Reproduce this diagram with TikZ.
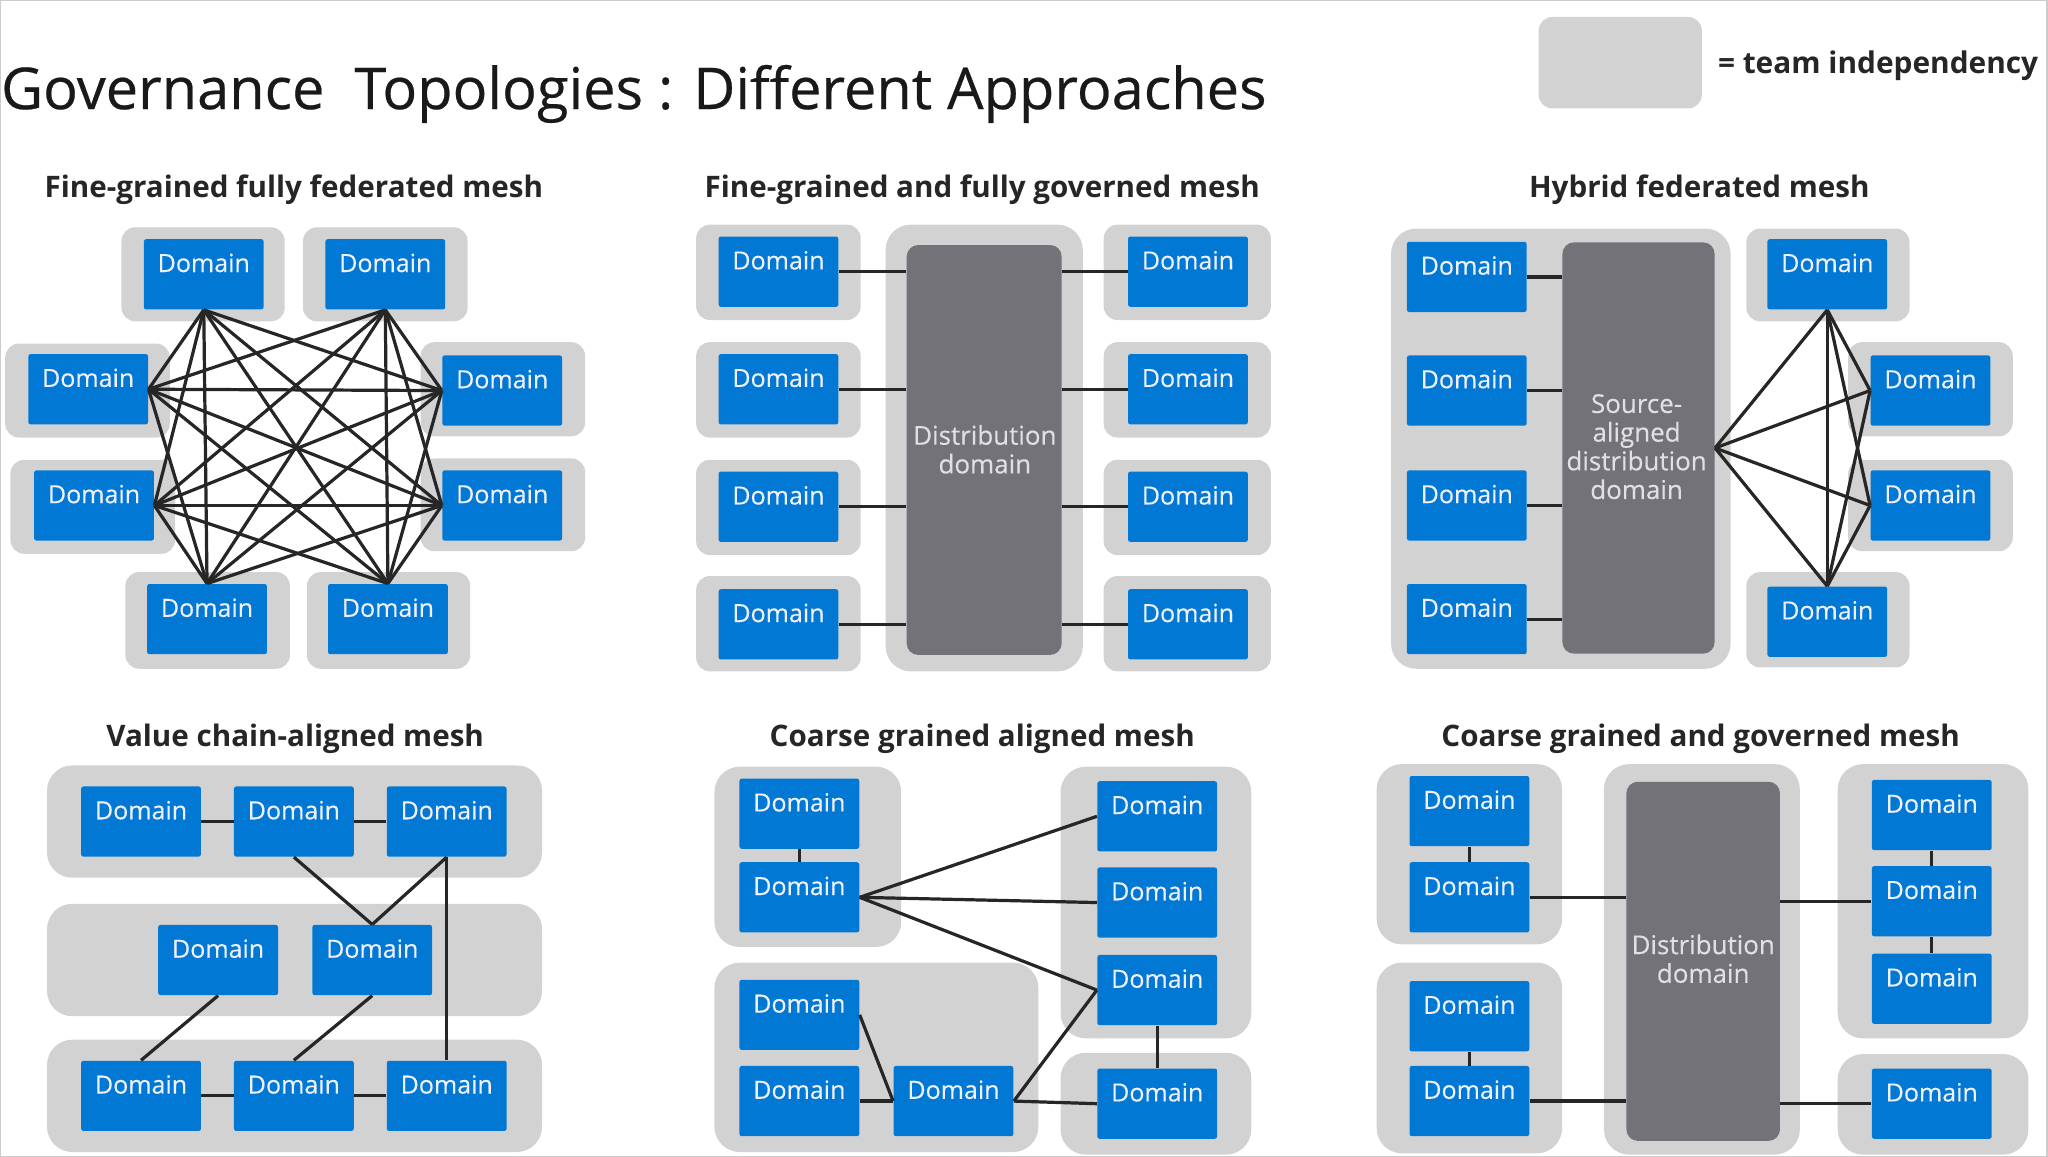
\documentclass[tikz,border=0pt]{standalone}
\usepackage{fontspec}
\setmainfont{Open Sans}
\definecolor{domainblue}{HTML}{0078D4}
\definecolor{teamgray}{HTML}{D2D2D2}
\definecolor{distgray}{HTML}{737278}
\definecolor{linkblack}{HTML}{262626}
\tikzset{
	dombox/.style={fill=domainblue,rounded corners=1pt,text=blue!6,inner sep=0pt,minimum width=52.2pt,text height=14.3pt,text depth=16.3pt,font=\fontsize{10.9}{12}\selectfont\addfontfeature{FakeBold=0.3}},
	distbox/.style={fill=distgray,rounded corners=5pt,inner sep=0pt},
	disttext/.style={text=black!12,align=center,font=\fontsize{11.3}{12.5}\selectfont\addfontfeature{FakeBold=0.3}},
	team/.style={fill=teamgray,rounded corners=6pt},
	bigteam/.style={fill=teamgray,rounded corners=11pt},
	link/.style={draw=linkblack,line width=1.4pt},
	meshhead/.style={text=black!85,font=\bfseries\fontsize{12.9}{15}\selectfont}
}
\begin{document}
\begin{tikzpicture}[x=0.02cm,y=-0.02cm]
	\useasboundingbox (0,0) rectangle (1568,885.8);
	\draw [black!20,line width=0.8pt] (0,0) rectangle (1567,885.8);

	\node [anchor=base west,inner sep=0pt,text=black!90,font=\fontsize{25.15}{30}\selectfont\addfontfeature{FakeBold=0.4}] (title) at (0.5,83.5) {Governance\ \ Topologies : Different Approaches};
	\fill [team] (1178,13) rectangle (1303,83);
	\node [anchor=west,inner sep=0pt,text=black!85,font=\bfseries\fontsize{13}{15}\selectfont] (legend) at (1315,50) {= team independency};

	\node [meshhead] (h1) at (225,145) {Fine-grained fully federated mesh};
	\node [meshhead] (h2) at (752,145) {Fine-grained and fully governed mesh};
	\node [meshhead] (h3) at (1301,145) {Hybrid federated mesh};
	\node [meshhead] (h4) at (226,566) {Value chain-aligned mesh};
	\node [meshhead] (h5) at (752,566) {Coarse grained aligned mesh};
	\node [meshhead] (h6) at (1302,566) {Coarse grained and governed mesh};

	% fully federated
	\foreach \xa/\ya/\xb/\yb in {93/174/218/246,232/174/358/246,4/263/130/335,322/262/448/334,8/352/134/424,322/351/448/422,96/438/222/512,235/438/360/512}
		\fill [team] (\xa,\ya) rectangle (\xb,\yb);
	\foreach \n/\x/\y in {fa/156/210,fb/295/210,fc/67.5/298,fd/384.5/299,fe/72/387,ff/384.5/387,fg/158.5/474,fh/297/474}
		\node [dombox] (\n) at (\x,\y) {Domain};
	\foreach \from in {fa.south,fb.south}
		\foreach \to in {fc.east,fd.west,fe.east,ff.west,fg.north,fh.north}
			\draw [link] (\from) -- (\to);
	\foreach \from in {fc.east,fe.east}
		\foreach \to in {fd.west,ff.west,fg.north,fh.north}
			\draw [link] (\from) -- (\to);
	\foreach \from in {fd.west,ff.west}
		\foreach \to in {fg.north,fh.north}
			\draw [link] (\from) -- (\to);

	% fully governed
	\fill [bigteam] (678,172) rectangle (829,514);
	\foreach \y in {172,262,352,441}{
		\fill [team] (533,\y) rectangle (659,\y+73);
		\fill [team] (845,\y) rectangle (973,\y+73);
	}
	\node [distbox,minimum width=67.5pt,minimum height=178.6pt] (gd) at (753.5,344.5) {};
	\node [disttext] (gt) at (754,344) {Distribution\\domain};
	\foreach \i/\y in {1/208,2/298,3/388,4/478}{
		\node [dombox] (gl\i) at (596,\y) {Domain};
		\node [dombox] (gr\i) at (909.5,\y) {Domain};
		\draw [link] (gl\i.east) -- (gl\i.east -| gd.west);
		\draw [link] (gr\i.west) -- (gr\i.west -| gd.east);
	}

	% hybrid
	\fill [bigteam] (1065,175) rectangle (1325,512);
	\foreach \xa/\ya/\xb/\yb in {1337/175/1462/246,1415/262/1541/334,1415/352/1541/422,1337/438/1462/511}
		\fill [team] (\xa,\ya) rectangle (\xb,\yb);
	\node [distbox,minimum width=66.3pt,minimum height=179.2pt] (hd) at (1254.5,343) {};
	\node [disttext] (ht) at (1253,342) {Source-\\aligned\\distribution\\domain};
	\foreach \i/\y in {1/212,2/299,3/387,4/474}{
		\node [dombox] (hl\i) at (1123,\y) {Domain};
		\draw [link] (hl\i.east) -- (hl\i.east -| hd.west);
	}
	\foreach \n/\x/\y in {ha/1399/210,hb/1478/299,hc/1478/387,he/1399/476}
		\node [dombox] (\n) at (\x,\y) {Domain};
	\foreach \to in {ha.south,hb.west,hc.west,he.north}
		\draw [link] (hd.east) -- (\to);
	\draw [link] (ha.south) -- (he.north);
	\foreach \to in {hb.west,hc.west}{
		\draw [link] (ha.south) -- (\to);
		\draw [link] (he.north) -- (\to);
	}

	% value chain
	\foreach \y in {586,692,796}
		\fill [bigteam] (36,\y) rectangle (415,\y+86);
	\foreach \n/\x/\y in {va/108/629,vb/225/629,vc/342/629,vd/167/735,ve/285/735,vf/108/839,vg/225/839,vh/342/839}
		\node [dombox] (\n) at (\x,\y) {Domain};
	\draw [link] (va) -- (vb);
	\draw [link] (vb) -- (vc);
	\draw [link] (vb.south) -- (ve.north);
	\draw [link] (vc.south) -- (ve.north);
	\draw [link] (vc.south) -- (vh.north);
	\draw [link] (vd.south) -- (vf.north);
	\draw [link] (ve.south) -- (vg.north);
	\draw [link] (vf) -- (vg);
	\draw [link] (vg) -- (vh);

	% coarse aligned
	\fill [bigteam] (547,587) rectangle (690,725);
	\fill [bigteam] (547,737) rectangle (795,882);
	\fill [bigteam] (812,587) rectangle (958,795);
	\fill [bigteam] (812,806) rectangle (958,884);
	\foreach \n/\x/\y in {ca/612/623,cb/612/687,cc/612/777,cd/612/843,ce/730/843,cf/886/625,cg/886/691,ch/886/758,ci/886/845}
		\node [dombox] (\n) at (\x,\y) {Domain};
	\draw [link] (ca) -- (cb);
	\foreach \to in {cf,cg,ch}
		\draw [link] (cb.east) -- (\to.west);
	\draw [link] (cc.east) -- (ce.west);
	\draw [link] (cd.east) -- (ce.west);
	\draw [link] (ce.east) -- (ch.west);
	\draw [link] (ce.east) -- (ci.west);
	\draw [link] (ch) -- (ci);

	% coarse governed
	\fill [bigteam] (1054,585) rectangle (1196,723);
	\fill [bigteam] (1054,737) rectangle (1196,883);
	\fill [bigteam] (1228,585) rectangle (1378,884);
	\fill [bigteam] (1407,585) rectangle (1553,795);
	\fill [bigteam] (1407,807) rectangle (1553,884);
	\node [distbox,minimum width=66.9pt,minimum height=156.5pt] (kd) at (1304,736) {};
	\node [disttext] (kt) at (1304,734) {Distribution\\domain};
	\foreach \n/\x/\y in {ka/1125/621,kb/1125/687,kc/1125/778,ke/1125/843,kf/1479/624,kg/1479/690,kh/1479/757,ki/1479/845}
		\node [dombox] (\n) at (\x,\y) {Domain};
	\draw [link] (ka) -- (kb);
	\draw [link] (kc) -- (ke);
	\draw [link] (kf) -- (kg);
	\draw [link] (kg) -- (kh);
	\foreach \n in {kb,ke}
		\draw [link] (\n.east) -- (\n.east -| kd.west);
	\foreach \n in {kg,ki}
		\draw [link] (\n.west) -- (\n.west -| kd.east);
\end{tikzpicture}
\end{document}
